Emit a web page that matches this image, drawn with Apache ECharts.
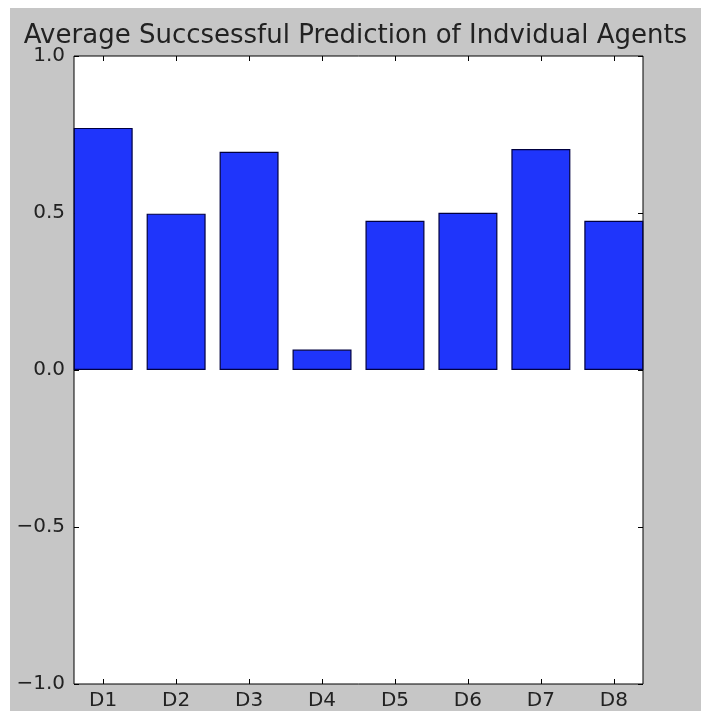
<!DOCTYPE html>
<html>
<head>
<meta charset="utf-8">
<script src="https://cdn.jsdelivr.net/npm/echarts@6/dist/echarts.min.js"></script>
<style>
  html, body { margin: 0; padding: 0; background: #fff; }
  #chart { position: absolute; left: 10px; top: 8px; width: 691px; height: 703px; background: #c6c6c6; }
</style>
</head>
<body>
<div id="chart"></div>
<script>
const categories = ['D1', 'D2', 'D3', 'D4', 'D5', 'D6', 'D7', 'D8'];
const values = [0.771, 0.498, 0.695, 0.065, 0.475, 0.501, 0.704, 0.475];
const yTicks = [-1.0, -0.5, 0.0, 0.5, 1.0];

const positions = categories.map((c, i) => i);
const font = 'DejaVu Sans';
const textColor = '#222';

const chart = echarts.init(document.getElementById('chart'));

const xAxisBase = {
  type: 'value',
  min: -0.4,
  max: 7.4,
  axisLine: { show: false, onZero: false },
  splitLine: { show: false },
  axisTick: {
    show: true,
    inside: true,
    length: 5,
    customValues: positions,
    lineStyle: { color: '#000', width: 1 }
  }
};

const yAxisBase = {
  type: 'value',
  min: yTicks[0],
  max: yTicks[yTicks.length - 1],
  interval: 0.5,
  axisLine: { show: false, onZero: false },
  splitLine: { show: false },
  axisTick: {
    show: true,
    inside: true,
    length: 5,
    lineStyle: { color: '#000', width: 1 }
  }
};

const option = {
  animation: false,
  textStyle: { fontFamily: font },
  title: {
    text: 'Average Succsessful Prediction of Indvidual Agents',
    left: 'center',
    top: 10,
    padding: [5, 0, 5, 6],
    textStyle: { fontFamily: font, fontSize: 26, fontWeight: 'normal', color: textColor }
  },
  grid: {
    left: 64,
    right: 58,
    top: 48,
    bottom: 26,
    show: true,
    backgroundColor: '#fff',
    borderColor: '#000',
    borderWidth: 1
  },
  xAxis: [
    Object.assign({}, xAxisBase, {
      position: 'bottom',
      axisLabel: {
        show: true,
        customValues: positions,
        formatter: v => categories[Math.round(v)],
        fontFamily: font,
        fontSize: 20,
        color: textColor,
        margin: 7
      }
    }),
    Object.assign({}, xAxisBase, {
      position: 'top',
      axisLabel: { show: false }
    })
  ],
  yAxis: [
    Object.assign({}, yAxisBase, {
      position: 'left',
      axisLabel: {
        show: true,
        formatter: v => v.toFixed(1).replace('-', '\u2212'),
        fontFamily: font,
        fontSize: 20,
        color: textColor,
        margin: 9
      }
    }),
    Object.assign({}, yAxisBase, {
      position: 'right',
      axisLabel: { show: false }
    })
  ],
  series: [
    {
      type: 'bar',
      xAxisIndex: 0,
      yAxisIndex: 0,
      barWidth: 59,
      data: values.map((v, i) => [positions[i], v]),
      itemStyle: {
        color: '#1f35fb',
        borderColor: '#000040',
        borderWidth: 1.2
      }
    }
  ]
};

chart.setOption(option);
</script>
</body>
</html>
